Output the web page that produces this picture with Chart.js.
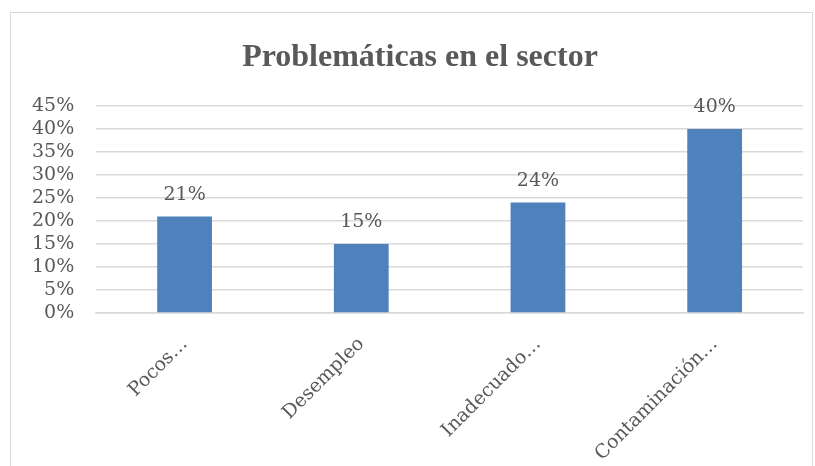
<!DOCTYPE html>
<html>
<head>
<meta charset="utf-8">
<script src="https://cdn.jsdelivr.net/npm/chart.js@4.4.0/dist/chart.umd.min.js"></script>
<style>
  html, body { margin: 0; padding: 0; background: #fff; }
  #frame {
    position: absolute; left: 10px; top: 12px; width: 803px; height: 460px;
    border: 1px solid #d9d9d9; box-sizing: border-box;
  }
  #wrap { position: absolute; left: 0; top: 0; width: 815px; height: 466px; }
  #title {
    position: absolute; left: 0; top: 36px; width: 840px; text-align: center;
    font: bold 32px 'Liberation Serif', serif; color: #595959; line-height: 38px;
  }
</style>
</head>
<body>
<div id="frame"></div>
<div id="wrap"><canvas id="bar-chart"></canvas></div>
<div id="title">Problemáticas en el sector</div>
<script>
// categories as they appear (truncated) under the bars
let categories = ["Pocos…", "Desempleo", "Inadecuado…", "Contaminación…"];
let values = [21, 15, 24, 40];
let yTicks = [0, 5, 10, 15, 20, 25, 30, 35, 40, 45];

let textColor = "#595959";
let serif = "'DejaVu Serif', serif";

// values above the bars
const barLabels = {
  id: "barLabels",
  afterDatasetsDraw(chart) {
    let ctx = chart.ctx;
    let meta = chart.getDatasetMeta(0);
    ctx.save();
    ctx.font = "19px " + serif;
    ctx.fillStyle = textColor;
    ctx.textAlign = "center";
    ctx.textBaseline = "bottom";
    meta.data.forEach((bar, i) => {
      ctx.fillText(values[i] + "%", bar.x, bar.y - 12);
    });
    ctx.restore();
  }
};

new Chart("bar-chart", {
  type: "bar",
  data: {
    labels: categories,
    datasets: [{
      data: values,
      backgroundColor: "#4F81BD",
      borderWidth: 0,
      barPercentage: 0.31,
      categoryPercentage: 1
    }]
  },
  plugins: [barLabels],
  options: {
    responsive: true,
    maintainAspectRatio: false,
    animation: false,
    layout: { padding: { left: 10, right: 12, top: 106, bottom: 0 } },
    plugins: {
      legend: { display: false },
      tooltip: { enabled: false },
      title: { display: false }
    },
    scales: {
      x: {
        afterFit: (axis) => { axis.height = 153; },
        grid: { display: false, drawTicks: false },
        border: { color: "#d9d9d9", width: 1.5 },
        ticks: {
          color: textColor,
          font: { family: serif, size: 19 },
          minRotation: 45,
          maxRotation: 45,
          padding: 20
        }
      },
      y: {
        min: 0,
        max: 45,
        afterBuildTicks: (axis) => { axis.ticks = yTicks.map(v => ({ value: v })); },
        grid: { color: "#d9d9d9", lineWidth: 1.5, drawTicks: false },
        border: { display: false },
        ticks: {
          autoSkip: false,
          color: textColor,
          font: { family: serif, size: 19, lineHeight: 1 },
          padding: 22,
          callback: (v) => v + "%"
        }
      }
    }
  }
});
</script>
</body>
</html>
